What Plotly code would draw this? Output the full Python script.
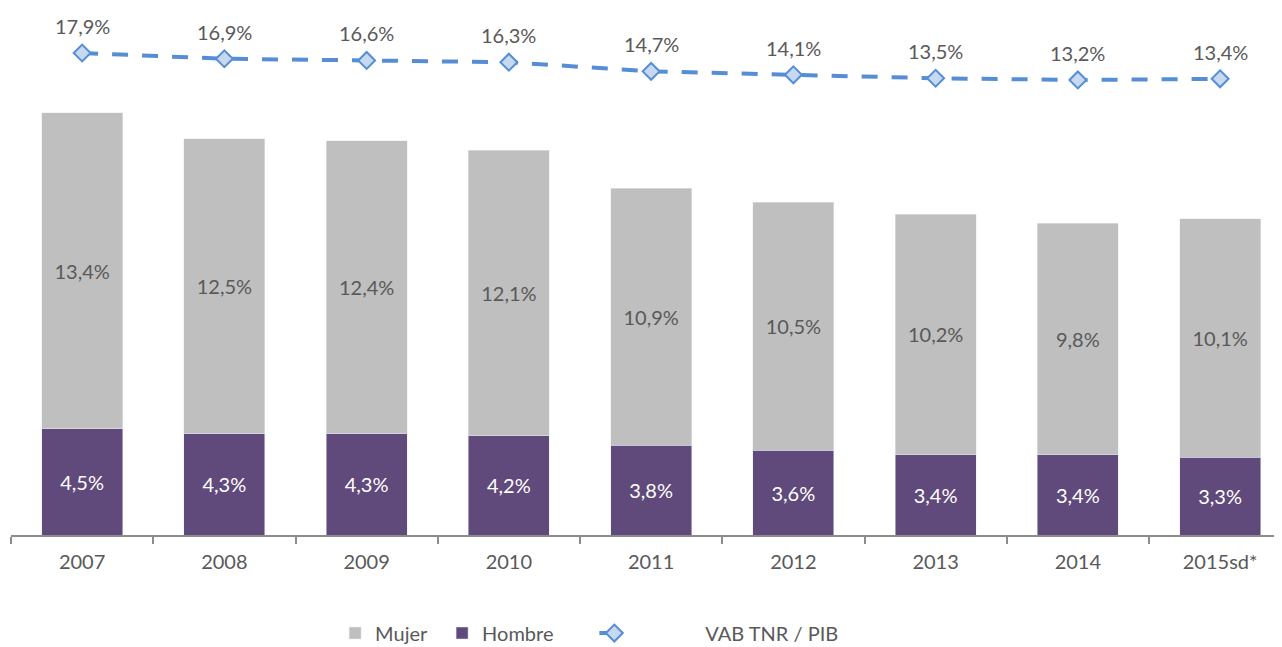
import plotly.graph_objects as go

years = ["2007", "2008", "2009", "2010", "2011", "2012", "2013", "2014", "2015sd*"]
mujer = [13.4, 12.5, 12.4, 12.1, 10.9, 10.5, 10.2, 9.8, 10.1]
hombre = [4.5, 4.3, 4.3, 4.2, 3.8, 3.6, 3.4, 3.4, 3.3]
vab_tnr_pib = [17.9, 16.9, 16.6, 16.3, 14.7, 14.1, 13.5, 13.2, 13.4]

def pct(v):
    return f"{v:.1f}%".replace(".", ",")

FONT = "Lato"
TXT = "#595959"
FS = 20
NB = "\u00a0"

W, H = 1274, 639          # page body has an 8px margin
PLOT_H = 527

fig = go.Figure()
fig.add_trace(go.Bar(
    x=years, y=hombre, name="Hombre" + NB * 7, marker_color="#604a7b",
    text=[pct(v) for v in hombre], textposition="inside", insidetextanchor="middle",
    textfont=dict(color="white", size=FS, family=FONT), legendrank=2,
    constraintext="none", width=0.57,
))
fig.add_trace(go.Bar(
    x=years, y=mujer, name="Mujer" + NB * 2, marker_color="#bfbfbf",
    text=[pct(v) for v in mujer], textposition="inside", insidetextanchor="middle",
    textfont=dict(color=TXT, size=FS, family=FONT), legendrank=1,
    constraintext="none", width=0.57,
))
fig.add_trace(go.Scatter(
    x=years, y=vab_tnr_pib, name=NB * 14 + "VAB TNR / PIB",
    yaxis="y2", mode="lines+markers",
    line=dict(color="#558ed5", width=4, dash="16px,14px"),
    marker=dict(symbol="diamond", size=13, color="#c6d9f1", line=dict(color="#558ed5", width=2)),
    legendrank=3,
))

for i, v in enumerate(vab_tnr_pib):
    fig.add_annotation(x=i, y=v, xref="x", yref="y2", text=pct(v), showarrow=False,
                       yshift=27, font=dict(size=FS, color=TXT, family=FONT))

fig.update_layout(
    width=W, height=H,
    margin=dict(l=3, r=0, t=0, b=H - PLOT_H, autoexpand=False),
    barmode="stack", bargap=0.43,
    plot_bgcolor="white", paper_bgcolor="white",
    font=dict(family=FONT, size=FS, color=TXT),
    xaxis=dict(type="category", range=[-0.5, 8.435], showline=True, linecolor="#8c8c8c",
               linewidth=1.5, ticks="outside", tickson="boundaries", ticklen=7,
               tickcolor="#8c8c8c", tickwidth=1.5, showgrid=False, automargin=False,
               ticklabelstandoff=8,
               tickfont=dict(size=FS, color=TXT, family=FONT)),
    yaxis=dict(range=[0, PLOT_H / 23.6], visible=False, showgrid=False),
    yaxis2=dict(range=[-66.07, 25.74], overlaying="y", visible=False, showgrid=False),
    legend=dict(orientation="h", x=0.255, xanchor="left", y=-0.186, yanchor="middle",
                font=dict(size=FS, color=TXT, family=FONT), itemwidth=30,
                traceorder="normal"),
    showlegend=True,
)

fig.write_html("out.html")
